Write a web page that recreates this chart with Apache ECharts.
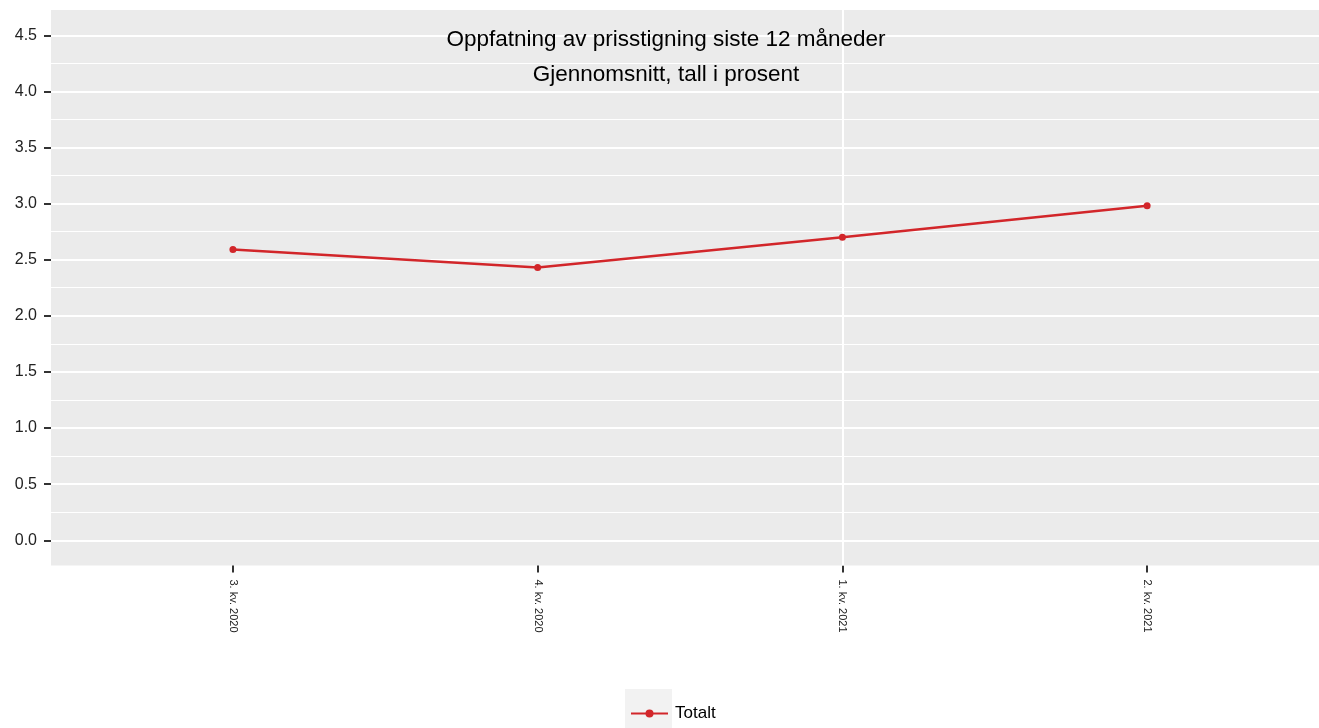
<!DOCTYPE html>
<html><head><meta charset="utf-8">
<script src="https://cdn.jsdelivr.net/npm/echarts@6/dist/echarts.min.js"></script>
<style>html,body{margin:0;padding:0;background:#fff}#c{width:1319px;height:728px}</style>
</head><body><div id="c"></div>
<script>
const categories = ['3. kv. 2020', '4. kv. 2020', '1. kv. 2021', '2. kv. 2021'];
const totalt = [2.59, 2.43, 2.70, 2.98];
const yTicks = [0, 0.5, 1.0, 1.5, 2.0, 2.5, 3.0, 3.5, 4.0, 4.5];
const yMinor = [0.25, 0.75, 1.25, 1.75, 2.25, 2.75, 3.25, 3.75, 4.25];
const xGridAt = [3];
const titleText = 'Oppfatning av prisstigning siste 12 måneder';
const subtitleText = 'Gjennomsnitt, tall i prosent';

const xPos = categories.map((c, i) => i + 1);
const chart = echarts.init(document.getElementById('c'), null, {renderer: 'canvas'});
const font = 'Liberation Sans, Arial, sans-serif';
chart.setOption({
  animation: false,
  backgroundColor: '#ffffff',
  title: {
    text: titleText, subtext: subtitleText,
    left: 666, top: 29, textAlign: 'center', itemGap: 12, padding: 0,
    textStyle: {fontFamily: font, fontSize: 22.5, lineHeight: 22, fontWeight: 'normal', color: '#000'},
    subtextStyle: {fontFamily: font, fontSize: 22.5, lineHeight: 22, color: '#000'}
  },
  graphic: [{type: 'rect', left: 625, top: 689, shape: {width: 47, height: 39}, style: {fill: '#f2f2f2'}, z: -1}],
  legend: {
    left: 630, top: 705, padding: 0, itemWidth: 37, itemHeight: 10, itemGap: 6,
    textStyle: {fontFamily: font, fontSize: 17, color: '#000', padding: [0, 0, 0, 2]},
    data: ['Totalt']
  },
  grid: {left: 51, top: 10, right: 0, height: 555.5, show: true, backgroundColor: '#EBEBEB', borderWidth: 0, containLabel: false},
  xAxis: {
    type: 'value', min: 0.403, max: 4.564,
    axisLine: {show: false, onZero: false},
    axisTick: {show: true, customValues: xPos, length: 7, lineStyle: {color: '#333', width: 2}},
    axisLabel: {customValues: xPos, rotate: -90, fontFamily: font, fontSize: 11, color: '#222', margin: 14,
      formatter: v => categories[Math.round(v) - 1] || ''},
    splitLine: {show: false}
  },
  yAxis: {
    type: 'value', min: -0.225, max: 4.725,
    axisLine: {show: false, onZero: false},
    axisTick: {show: true, customValues: yTicks, length: 7, lineStyle: {color: '#333', width: 2}},
    axisLabel: {customValues: yTicks, fontFamily: font, fontSize: 16, color: '#222', margin: 14,
      formatter: v => v.toFixed(1)},
    splitLine: {show: true, lineStyle: {color: '#ffffff', width: 2}},
    minorSplitLine: {show: false}
  },
  series: [
    {
      name: 'grid', type: 'line', data: [], silent: true, z: 1,
      markLine: {
        silent: true, symbol: 'none', label: {show: false}, animation: false, z: 1,
        data: yMinor.map(v => ({yAxis: v, lineStyle: {color: '#ffffff', width: 1, type: 'solid'}}))
          .concat(xGridAt.map(v => ({xAxis: v, lineStyle: {color: '#ffffff', width: 2, type: 'solid'}})))
      }
    },
    {
      name: 'Totalt', type: 'line', z: 3,
      data: totalt.map((v, i) => [xPos[i], v]),
      symbol: 'circle', symbolSize: 7,
      itemStyle: {color: '#D2262A'},
      lineStyle: {color: '#D2262A', width: 2.5}
    }
  ]
});
</script></body></html>
